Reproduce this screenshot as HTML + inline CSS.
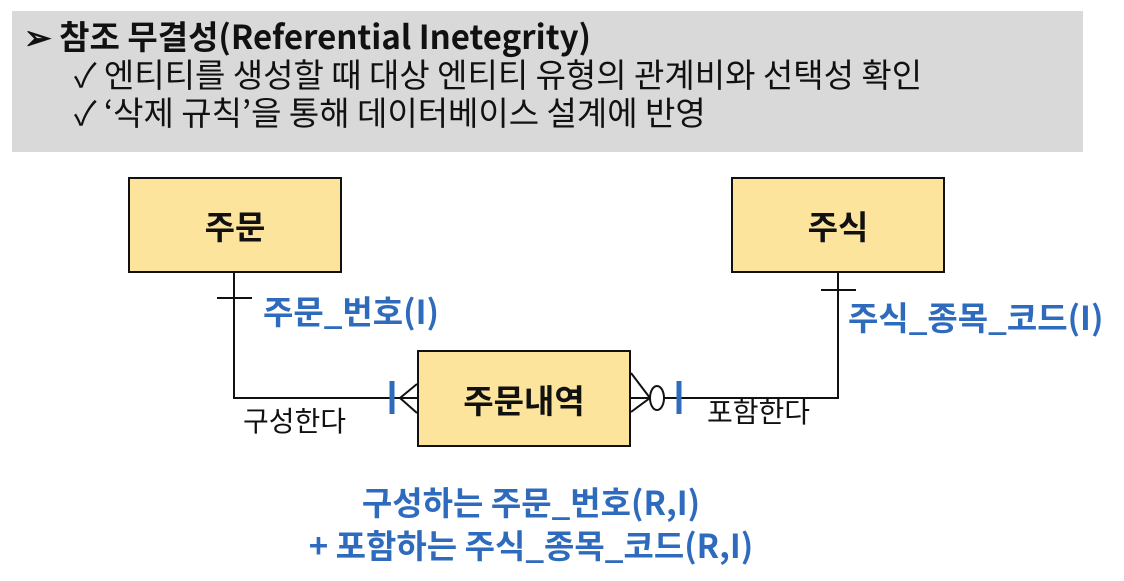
<!DOCTYPE html>
<html><head><meta charset="utf-8"><style>
body{margin:0;width:1124px;height:581px;background:#fff;overflow:hidden;position:relative;font-family:"Noto Sans CJK KR","Liberation Sans",sans-serif}
.t{position:absolute;white-space:nowrap;line-height:1}
.box{position:absolute;background:#fde49c;border:2px solid #111;box-sizing:border-box;display:flex;align-items:center;justify-content:center;font-size:33px;font-weight:bold;color:#111}
.blue{color:#2f6bbd;font-weight:bold}
</style></head><body>
<div style="position:absolute;left:12px;top:11px;width:1071px;height:141px;background:#d9d9d9"></div>
<div class="t" style="left:24px;top:19px;font-size:33px;font-weight:bold;color:#111">➢ 참조 무결성(Referential Inetegrity)</div>
<div class="t" style="left:74px;top:57px;font-size:33px;color:#111">✓ 엔티티를 생성할 때 대상 엔티티 유형의 관계비와 선택성 확인</div>
<div class="t" style="left:74px;top:95px;font-size:33px;color:#111">✓ ‘삭제 규칙’을 통해 데이터베이스 설계에 반영</div>
<div class="box" style="left:128px;top:177px;width:214px;height:96px">주문</div>
<div class="box" style="left:731px;top:177px;width:214px;height:96px">주식</div>
<div class="box" style="left:417px;top:350px;width:214px;height:97px">주문내역</div>
<svg style="position:absolute;left:0;top:0" width="1124" height="581">
<g stroke="#111" stroke-width="2" fill="none">
<polyline points="234,273 234,398 417,398"/>
<line x1="217" y1="298" x2="252" y2="298"/>
<line x1="400" y1="398" x2="417" y2="384"/>
<line x1="400" y1="398" x2="417" y2="413"/>
<polyline points="631,398 838,398 838,273"/>
<line x1="821" y1="290" x2="856" y2="290"/>
<line x1="631" y1="373" x2="650" y2="398"/>
<line x1="631" y1="412" x2="650" y2="398"/>
<ellipse cx="657" cy="398" rx="7" ry="12" fill="#fff"/>
</g>
<line x1="392" y1="381" x2="392" y2="414" stroke="#2f6bbd" stroke-width="5"/>
<line x1="679" y1="381" x2="679" y2="414" stroke="#2f6bbd" stroke-width="5"/>
</svg>
<div class="t blue" style="left:263px;top:294px;font-size:33px">주문_번호(I)</div>
<div class="t blue" style="left:848px;top:300px;font-size:33px">주식_종목_코드(I)</div>
<div class="t" style="left:243px;top:406px;font-size:28px;color:#111">구성한다</div>
<div class="t" style="left:707px;top:397px;font-size:28px;color:#111">포함한다</div>
<div class="t blue" style="left:0;width:1062px;text-align:center;top:485px;font-size:33px">구성하는 주문_번호(R,I)</div>
<div class="t blue" style="left:0;width:1062px;text-align:center;top:528px;font-size:33px">+ 포함하는 주식_종목_코드(R,I)</div>
</body></html>
